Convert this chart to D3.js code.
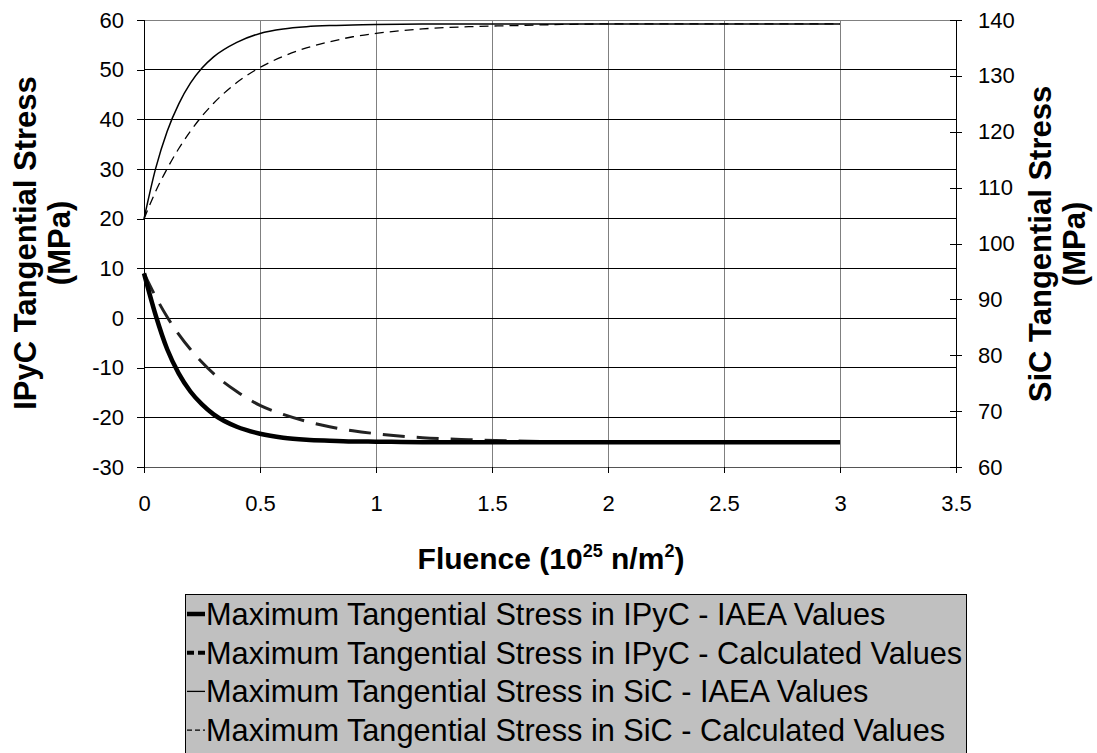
<!DOCTYPE html>
<html>
<head>
<meta charset="utf-8">
<script src="https://cdn.jsdelivr.net/npm/d3@7"></script>
<style>
  body { margin: 0; background: #fff; }
  text { font-family: "Liberation Sans", Arial, sans-serif; fill: #000; }
</style>
</head>
<body>
<svg id="chart" width="1097" height="753"></svg>
<script>
// Fluence points (10^25 n/m^2) and maximum tangential stress (MPa)
const fluence   = [0, 0.05, 0.1, 0.15, 0.2, 0.25, 0.3, 0.4, 0.5, 0.6, 0.7, 0.8, 0.9, 1.0, 1.2, 1.4, 1.6, 1.8, 2.0, 2.5, 3.0];
const ipycIaea  = [9, 0.6, -6.3, -11.2, -14.8, -17.4, -19.4, -21.9, -23.3, -24.1, -24.5, -24.7, -24.85, -24.9, -25, -25, -25, -25, -25, -25, -25];
const ipycCalc  = [9, 4.3, 0.2, -3.3, -6.3, -8.9, -11.2, -14.8, -17.6, -19.4, -20.8, -21.9, -22.7, -23.3, -24.1, -24.5, -24.75, -24.9, -24.95, -25, -25];
const sicIaea   = [104.4, 113.4, 120.1, 125.0, 128.7, 131.4, 133.4, 136.0, 137.6, 138.4, 138.8, 139.0, 139.1, 139.2, 139.3, 139.3, 139.3, 139.3, 139.3, 139.3, 139.3];
const sicCalc   = [104.4, 109.3, 113.4, 117.0, 120.1, 122.8, 125.1, 128.8, 131.5, 133.5, 135.0, 136.1, 137.0, 137.6, 138.4, 138.8, 139.0, 139.2, 139.3, 139.3, 139.3];

const xTicks      = [0, 0.5, 1, 1.5, 2, 2.5, 3, 3.5];
const leftTicks   = [-30, -20, -10, 0, 10, 20, 30, 40, 50, 60];
const rightTicks  = [60, 70, 80, 90, 100, 110, 120, 130, 140];
const legendNames = [
  "Maximum Tangential Stress in IPyC - IAEA Values",
  "Maximum Tangential Stress in IPyC - Calculated Values",
  "Maximum Tangential Stress in SiC - IAEA Values",
  "Maximum Tangential Stress in SiC - Calculated Values"
];

const svg = d3.select("#chart");
const L = 144, R = 956, T = 20, B = 467;

const x  = d3.scaleLinear().domain([0, 3.5]).range([L, R]);
const yL = d3.scaleLinear().domain([-30, 60]).range([B, T]);
const yR = d3.scaleLinear().domain([60, 140]).range([B, T]);

// gridlines
svg.append("g").selectAll("line").data(xTicks.filter(d => d > 0 && d < 3.5)).join("line")
  .attr("x1", d => x(d)).attr("x2", d => x(d)).attr("y1", T).attr("y2", B)
  .attr("stroke", "#808080").attr("stroke-width", 1).attr("shape-rendering", "crispEdges");
svg.append("g").selectAll("line").data(leftTicks.filter(d => d > -30 && d < 60)).join("line")
  .attr("x1", L).attr("x2", R).attr("y1", d => yL(d)).attr("y2", d => yL(d))
  .attr("stroke", "#000").attr("stroke-width", 1).attr("shape-rendering", "crispEdges");

// frame
svg.append("line").attr("x1", L).attr("x2", R).attr("y1", T).attr("y2", T)
  .attr("stroke", "#808080").attr("shape-rendering", "crispEdges");
svg.append("line").attr("x1", L).attr("x2", R).attr("y1", B).attr("y2", B)
  .attr("stroke", "#555").attr("shape-rendering", "crispEdges");
svg.append("line").attr("x1", L).attr("x2", L).attr("y1", T).attr("y2", B + 1)
  .attr("stroke", "#000").attr("shape-rendering", "crispEdges");
svg.append("line").attr("x1", R).attr("x2", R).attr("y1", T).attr("y2", B + 1)
  .attr("stroke", "#000").attr("shape-rendering", "crispEdges");

// axes
const fmt = d => String(d);
const xAxis = svg.append("g").attr("transform", `translate(0,${B})`)
  .call(d3.axisBottom(x).tickValues(xTicks).tickFormat(fmt).tickSizeInner(6).tickSizeOuter(0).tickPadding(22));
const yAxisL = svg.append("g").attr("transform", `translate(${L},0)`)
  .call(d3.axisLeft(yL).tickValues(leftTicks).tickFormat(fmt).tickSizeInner(7).tickSizeOuter(0).tickPadding(13));
const yAxisR = svg.append("g").attr("transform", `translate(${R},0)`)
  .call(d3.axisRight(yR).tickValues(rightTicks).tickFormat(fmt).tickSizeInner(6).tickSizeOuter(0).tickPadding(16));
// right axis ticks cross the axis line
yAxisR.selectAll(".tick line").attr("x1", -6);
[xAxis, yAxisL, yAxisR].forEach(g => {
  g.select(".domain").remove();
  g.selectAll(".tick line").attr("stroke", "#000").attr("shape-rendering", "crispEdges");
  g.selectAll(".tick text").attr("font-size", 22).attr("font-family", "Liberation Sans, Arial, sans-serif").attr("fill", "#000");
});

// series
const pts = vals => fluence.map((f, i) => [f, vals[i]]);
const lineL = d3.line().x(d => x(d[0])).y(d => yL(d[1])).curve(d3.curveMonotoneX);
const lineR = d3.line().x(d => x(d[0])).y(d => yR(d[1])).curve(d3.curveMonotoneX);

const series = [
  { vals: sicCalc,  gen: lineR, width: 1.3, dash: "9,6",   color: "#000" },
  { vals: sicIaea,  gen: lineR, width: 1.5, dash: null,    color: "#000" },
  { vals: ipycCalc, gen: lineL, width: 3,   dash: "22,12", color: "#222" },
  { vals: ipycIaea, gen: lineL, width: 4.5, dash: null,    color: "#000" }
];
svg.append("g").selectAll("path").data(series).join("path")
  .attr("d", s => s.gen(pts(s.vals)))
  .attr("fill", "none")
  .attr("stroke", s => s.color)
  .attr("stroke-width", s => s.width)
  .attr("stroke-dasharray", s => s.dash);

// axis titles
const xt = svg.append("text").attr("x", 551).attr("y", 569).attr("text-anchor", "middle")
  .attr("font-size", 30).attr("font-weight", "bold");
xt.append("tspan").text("Fluence (10");
xt.append("tspan").attr("font-size", 18).attr("dy", -12).text("25");
xt.append("tspan").attr("dy", 12).text(" n/m");
xt.append("tspan").attr("font-size", 18).attr("dy", -12).text("2");
xt.append("tspan").attr("dy", 12).text(")");

function yTitle(cx, cy, lines) {
  const t = svg.append("text").attr("transform", `translate(${cx},${cy}) rotate(-90)`)
    .attr("text-anchor", "middle").attr("font-size", 31).attr("font-weight", "bold");
  lines.forEach((s, i) => t.append("tspan").attr("x", 0).attr("y", i * 34).attr("dy", "0.35em").text(s));
}
yTitle(25, 243, ["IPyC Tangential Stress", "(MPa)"]);
yTitle(1040, 244, ["SiC Tangential Stress", "(MPa)"]);

// legend
const lg = svg.append("g");
lg.append("rect").attr("x", 185.5).attr("y", 594.5).attr("width", 781).attr("height", 175)
  .attr("fill", "#c0c0c0").attr("stroke", "#000").attr("stroke-width", 1);
const legendStyles = [
  { width: 4.5, dash: null },
  { width: 4,   dash: "7,4" },
  { width: 1.3, dash: null },
  { width: 1.3, dash: "5,3" }
];
const rows = lg.selectAll("g.row").data(legendNames).join("g").attr("class", "row")
  .attr("transform", (d, i) => `translate(0,${614 + i * 38.7})`);
rows.append("line").attr("x1", 187).attr("x2", 205).attr("y1", 0).attr("y2", 0)
  .attr("stroke", "#000")
  .attr("stroke-width", (d, i) => legendStyles[i].width)
  .attr("stroke-dasharray", (d, i) => legendStyles[i].dash);
rows.append("text").attr("x", 206).attr("y", 0).attr("dy", "0.36em")
  .attr("font-size", 30.7).text(d => d);
</script>
</body>
</html>
